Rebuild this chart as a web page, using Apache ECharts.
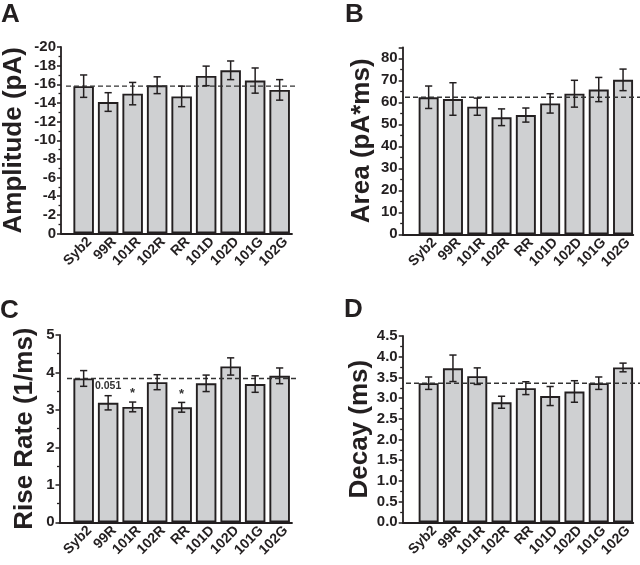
<!DOCTYPE html>
<html><head><meta charset="utf-8">
<script src="https://cdn.jsdelivr.net/npm/echarts@6/dist/echarts.min.js"></script>
<style>html,body{margin:0;padding:0;background:#fff}#c{width:640px;height:565px}</style>
</head><body><div id="c"></div>
<script>
// ---------- data ----------
const categories = ['Syb2', '99R', '101R', '102R', 'RR', '101D', '102D', '101G', '102G'];

const amplitudeMean = [-15.8, -14.1, -15.0, -15.9, -14.7, -16.9, -17.5, -16.4, -15.4];
const amplitudeErr  = [1.2, 1.0, 1.2, 0.9, 1.1, 1.05, 1.0, 1.35, 1.1];

const areaMean = [62.3, 61.5, 58.0, 53.2, 54.2, 59.5, 63.9, 65.8, 70.2];
const areaErr  = [5.1, 7.4, 3.9, 3.8, 3.2, 4.4, 6.1, 5.5, 4.9];

const riseMean  = [3.84, 3.19, 3.08, 3.74, 3.07, 3.71, 4.16, 3.69, 3.91];
const riseErr   = [0.21, 0.19, 0.13, 0.20, 0.13, 0.22, 0.23, 0.22, 0.21];
const riseNotes = ['', '0.051', '*', '', '*', '', '', '', ''];

const decayMean = [3.36, 3.72, 3.53, 2.90, 3.24, 3.05, 3.16, 3.36, 3.74];
const decayErr  = [0.15, 0.32, 0.20, 0.145, 0.155, 0.23, 0.26, 0.15, 0.105];

// axis ranges: [min, max, interval]
const amplitudeAxis = [-20, 0, 2];
const areaAxis      = [0, 85, 10];
const riseAxis      = [0, 5, 1];
const decayAxis     = [0, 4.5, 0.5];

const panelLetters = ['A', 'B', 'C', 'D'];
const axisNames = ['Amplitude (pA)', 'Area (pA*ms)', 'Rise Rate (1/ms)', 'Decay (ms)'];

// ---------- layout ----------
const INK = '#231f20';
const FONT = 'Liberation Sans, Arial, Helvetica, sans-serif';

const panels = [
  {mean: amplitudeMean, err: amplitudeErr, notes: null, range: amplitudeAxis, inverse: true,
   ax: 59.5, top: 47, bottom: 233.5, right: 292, barLeft: 71.4, barSpan: 220.5, dashL: 66, dashR: 297, nameGap: 34, barW: 20.5},
  {mean: areaMean, err: areaErr, notes: null, range: areaAxis, inverse: false,
   ax: 402.7, top: 47.3, bottom: 234.3, right: 633.3, barLeft: 416.5, barSpan: 218.7, dashL: 405, dashR: 640, nameGap: 28, barW: 20, hideMax: true},
  {mean: riseMean, err: riseErr, notes: riseNotes, range: riseAxis, inverse: false,
   ax: 59.5, top: 335, bottom: 522.3, right: 292, barLeft: 71.4, barSpan: 220.5, dashL: 67, dashR: 297, nameGap: 22, barW: 20.5},
  {mean: decayMean, err: decayErr, notes: null, range: decayAxis, inverse: false,
   ax: 402.7, top: 336, bottom: 522.3, right: 633.3, barLeft: 416.5, barSpan: 218.7, dashL: 406, dashR: 640, nameGap: 30, barW: 20}
];
const titlePos = [[1, 2], [345, 2], [0, 298], [344, 297]];

const grid = [], xAxis = [], yAxis = [], series = [], title = [];

panels.forEach((p, k) => {
  const g = grid.length;
  const h = p.bottom - p.top;
  const [mn, mx, iv] = p.range;
  // 0: axes grid, 1: bars grid, 2: labels grid, 3: dashed-line grid
  grid.push({left: p.ax, top: p.top, width: p.right - p.ax, height: h});
  grid.push({left: p.barLeft, top: p.top, width: p.barSpan, height: h});
  grid.push({left: p.barLeft + 6, top: p.top, width: p.barSpan, height: h});
  grid.push({left: p.dashL, top: p.top, width: p.dashR - p.dashL, height: h});

  const hiddenY = gi => ({gridIndex: gi, type: 'value', min: mn, max: mx, inverse: p.inverse, show: false});

  // axes grid
  xAxis.push({gridIndex: g, type: 'value', min: 0, max: 1, position: 'bottom',
    axisLine: {show: true, onZero: false, lineStyle: {color: INK, width: 1.8}},
    axisTick: {show: false}, axisLabel: {show: false}, splitLine: {show: false}});
  yAxis.push({gridIndex: g, type: 'value', min: mn, max: mx, interval: iv, inverse: p.inverse,
    name: axisNames[k], nameLocation: 'middle', nameGap: p.nameGap, nameRotate: 90,
    nameTextStyle: {fontSize: 26, fontWeight: 'bold', fontFamily: FONT, color: INK},
    axisLine: {show: true, onZero: false, lineStyle: {color: INK, width: 1.8}},
    axisTick: {show: true, inside: false, length: 4, lineStyle: {color: INK, width: 1.5}},
    minorTick: {show: true, splitNumber: 2, length: 2.5, lineStyle: {color: INK, width: 1.3}},
    axisLabel: {fontSize: 15, fontWeight: 'bold', fontFamily: FONT, color: INK, margin: 5,
      showMaxLabel: p.hideMax ? false : null,
      formatter: v => (k === 3 ? v.toFixed(1) : String(v))},
    splitLine: {show: false}});

  // bars grid
  xAxis.push({gridIndex: g + 1, type: 'category', data: categories, show: false});
  yAxis.push(hiddenY(g + 1));

  // labels grid
  xAxis.push({gridIndex: g + 2, type: 'category', data: categories,
    axisLine: {show: false}, axisTick: {show: false},
    axisLabel: {show: true, interval: 0, rotate: 45, margin: 6, fontSize: 14, fontWeight: 'bold',
      fontFamily: FONT, color: INK}});
  yAxis.push(hiddenY(g + 2));

  // dashed grid
  xAxis.push({gridIndex: g + 3, type: 'value', min: 0, max: 1, show: false});
  yAxis.push(hiddenY(g + 3));

  series.push({type: 'bar', xAxisIndex: g + 1, yAxisIndex: g + 1, data: p.mean, barWidth: p.barW,
    itemStyle: {color: '#cfd0d2', borderColor: INK, borderWidth: 1.9}, silent: true, z: 2});

  series.push({type: 'line', xAxisIndex: g + 3, yAxisIndex: g + 3,
    data: [[0, p.mean[0]], [1, p.mean[0]]], symbol: 'none', silent: true, z: 4,
    lineStyle: {color: '#333', width: 1.4, type: [5, 3]}});

  series.push({type: 'custom', xAxisIndex: g + 1, yAxisIndex: g + 1, z: 5, silent: true,
    data: categories.map((c, i) => [i, p.mean[i], p.err[i], p.notes ? p.notes[i] : '']),
    encode: {x: 0, y: 1},
    renderItem: (params, api) => {
      const i = api.value(0), m = api.value(1), e = api.value(2);
      const note = p.notes ? p.notes[i] : '';
      const hi = api.coord([i, m + e]);
      const lo = api.coord([i, m - e]);
      const top = hi[1] < lo[1] ? hi : lo;
      const bot = hi[1] < lo[1] ? lo : hi;
      const cw = 3.6;
      const st = {stroke: INK, lineWidth: 1.5};
      const children = [
        {type: 'line', shape: {x1: top[0], y1: top[1], x2: bot[0], y2: bot[1]}, style: st},
        {type: 'line', shape: {x1: top[0] - cw, y1: top[1], x2: top[0] + cw, y2: top[1]}, style: st},
        {type: 'line', shape: {x1: bot[0] - cw, y1: bot[1], x2: bot[0] + cw, y2: bot[1]}, style: st}
      ];
      if (note) {
        const star = note === '*';
        children.push({type: 'text', style: {text: note, x: top[0], y: star ? top[1] - 2 : top[1] - 4,
          align: 'center', verticalAlign: 'bottom', fontSize: star ? 13 : 10.5, fontWeight: 'bold',
          fontFamily: FONT, fill: '#333'}});
      }
      return {type: 'group', children};
    }});

  title.push({text: panelLetters[k], left: titlePos[k][0], top: titlePos[k][1], padding: 0,
    textStyle: {fontSize: 26, fontWeight: 'bold', fontFamily: FONT, color: INK}});
});

const chart = echarts.init(document.getElementById('c'), null, {renderer: 'canvas'});
chart.setOption({animation: false, backgroundColor: '#fff', title, grid, xAxis, yAxis, series});
</script>
</body></html>
